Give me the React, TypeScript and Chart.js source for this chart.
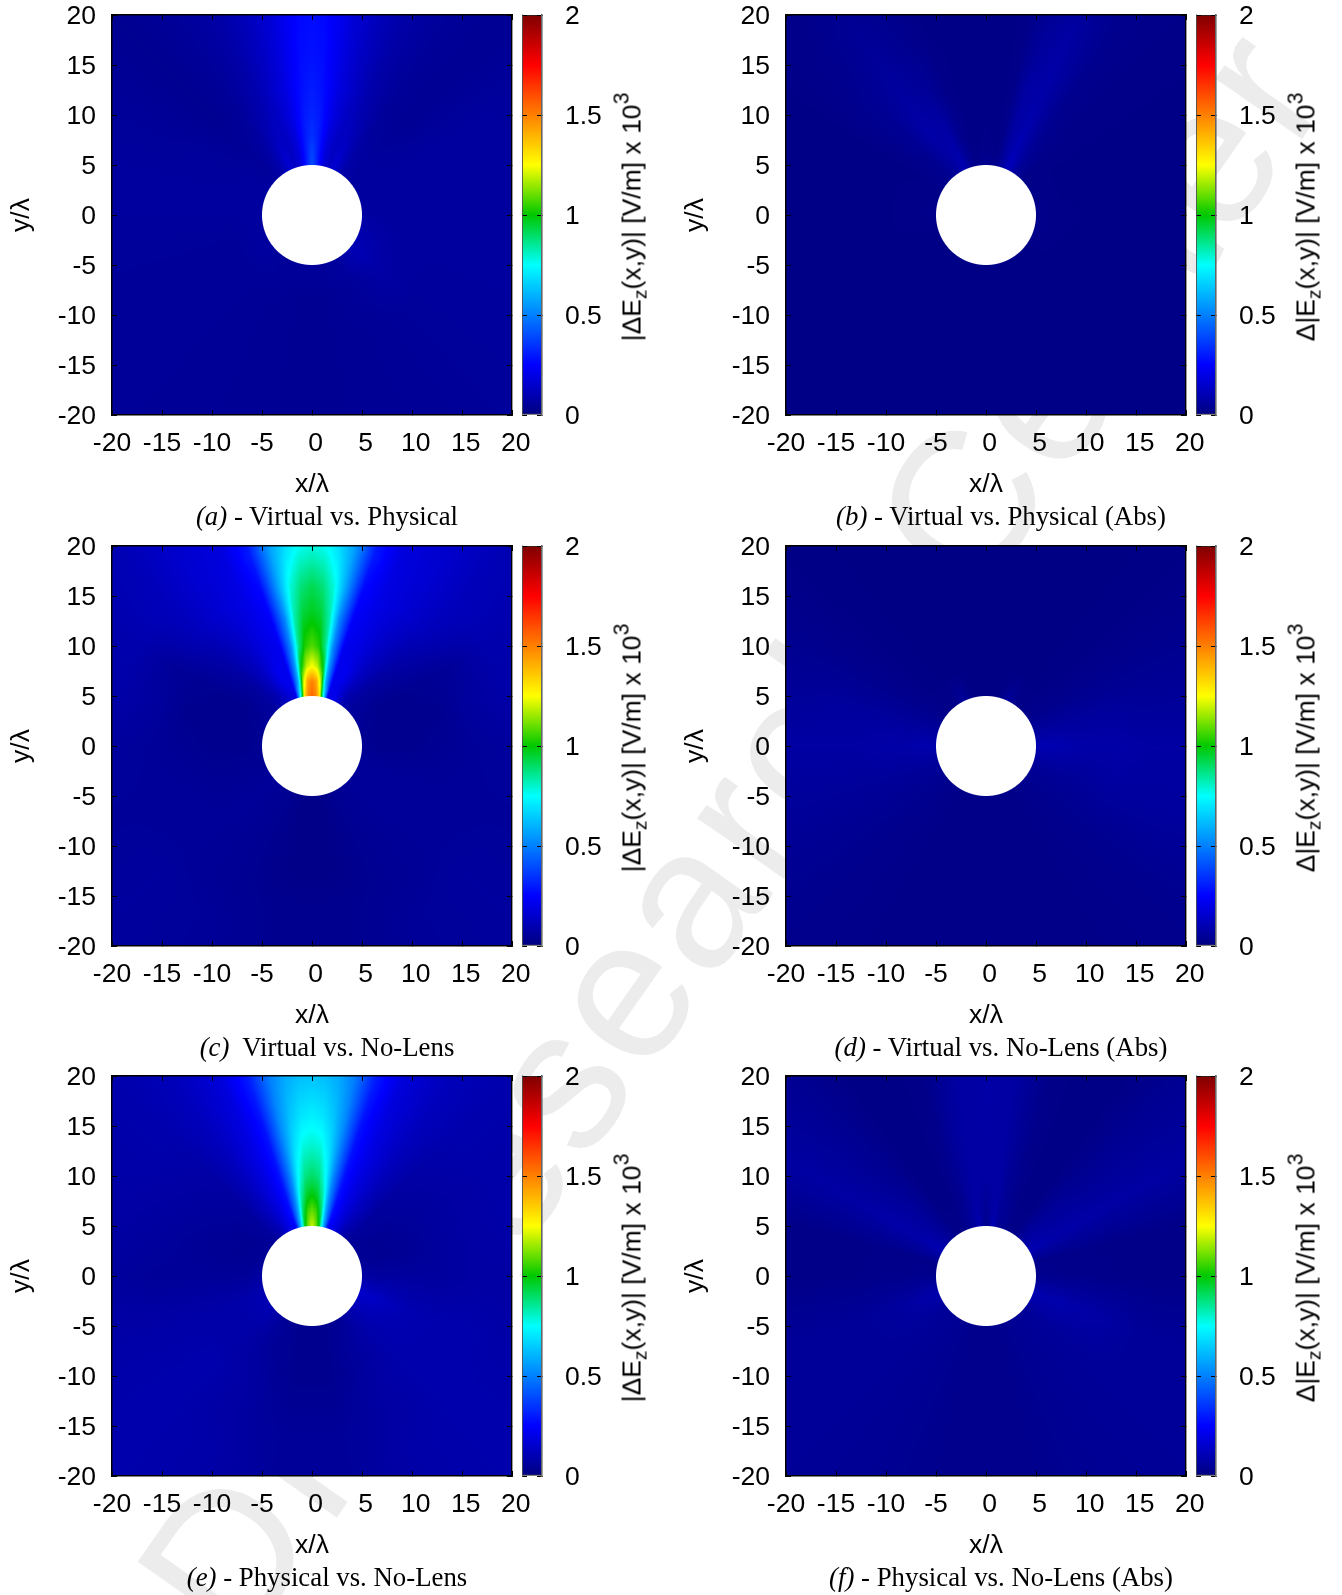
import React, { useEffect, useRef } from "react";
import { Chart, registerables } from "chart.js";

Chart.register(...registerables);

const X_TICK_VALUES = [-20, -15, -10, -5, 0, 5, 10, 15, 20];
const BAR_TICK_VALUES = [0, 0.5, 1, 1.5, 2];
const HOLE_RADIUS = 5;

// Mesh of read-off field values: one row per radius, one column per spoke.
// Spokes in degrees clockwise from +y.
const ANGLES = [-170, -150, -130, -110, -90, -75, -60, -45, -35, -25, -18, -12, -8, -4, 0, 4, 8, 12, 18, 25, 35, 45, 60, 75, 90, 110, 130, 150, 170];
const RADII = [5, 6.5, 8, 10, 13, 16, 20, 28.3];

const VALUES_A = [
  [.05, .05, .06, .06, .06, .06, .06, .06, .08, .16, .14, .18, .26, .34, .40, .34, .26, .18, .14, .16, .08, .07, .06, .06, .07, .09, .11, .06, .05],
  [.05, .05, .06, .06, .06, .06, .06, .05, .08, .15, .13, .18, .25, .32, .38, .32, .25, .18, .13, .15, .08, .06, .06, .06, .06, .08, .10, .06, .05],
  [.04, .05, .05, .05, .06, .06, .06, .05, .07, .13, .13, .18, .25, .31, .34, .31, .25, .18, .13, .13, .07, .06, .06, .06, .06, .07, .08, .05, .04],
  [.04, .045, .05, .05, .06, .06, .055, .045, .06, .11, .14, .19, .25, .30, .32, .30, .25, .19, .14, .11, .06, .05, .06, .06, .06, .06, .07, .05, .04],
  [.04, .045, .05, .05, .06, .06, .055, .035, .05, .09, .14, .19, .24, .28, .30, .28, .24, .19, .14, .09, .05, .04, .06, .06, .06, .06, .055, .045, .04],
  [.04, .045, .05, .05, .06, .06, .05, .035, .05, .08, .13, .18, .23, .27, .28, .27, .23, .18, .13, .08, .05, .04, .06, .06, .06, .06, .055, .045, .04],
  [.04, .045, .05, .05, .06, .06, .05, .035, .05, .08, .12, .17, .22, .26, .27, .26, .22, .17, .12, .08, .05, .04, .06, .06, .06, .06, .055, .045, .04],
  [.04, .045, .05, .05, .06, .06, .05, .035, .05, .07, .11, .16, .20, .24, .25, .24, .20, .16, .11, .07, .05, .04, .055, .06, .06, .06, .055, .045, .04],
];

const VALUES_B = [
  [.015, .015, .015, .015, .03, .02, .02, .03, .05, .10, .05, .02, .02, .03, .04, .03, .02, .03, .06, .12, .05, .02, .02, .02, .03, .02, .015, .015, .015],
  [.015, .015, .015, .015, .02, .02, .02, .03, .06, .09, .04, .02, .015, .02, .02, .02, .015, .02, .07, .11, .05, .02, .02, .02, .02, .02, .015, .015, .015],
  [.015, .015, .015, .015, .02, .02, .015, .03, .07, .08, .03, .015, .015, .015, .02, .015, .015, .02, .07, .10, .04, .02, .015, .015, .02, .015, .015, .015, .015],
  [.015, .015, .015, .015, .015, .015, .015, .04, .08, .07, .03, .015, .015, .015, .015, .015, .015, .02, .07, .09, .035, .02, .015, .015, .015, .015, .015, .015, .015],
  [.015, .015, .015, .015, .015, .015, .015, .04, .07, .05, .02, .015, .015, .015, .015, .015, .015, .02, .07, .08, .03, .02, .015, .015, .015, .015, .015, .015, .015],
  [.015, .015, .015, .015, .015, .015, .015, .04, .06, .04, .02, .015, .015, .015, .015, .015, .015, .02, .06, .08, .03, .02, .015, .015, .015, .015, .015, .015, .015],
  [.015, .015, .015, .015, .015, .015, .015, .03, .05, .03, .015, .015, .015, .015, .015, .015, .015, .02, .05, .07, .03, .02, .015, .015, .015, .015, .015, .015, .015],
  [.015, .015, .015, .015, .015, .015, .015, .02, .03, .02, .015, .015, .015, .015, .015, .015, .015, .02, .03, .04, .025, .02, .015, .015, .015, .015, .015, .015, .015],
];

const VALUES_C = [
  [.02, .04, .05, .04, .04, .04, .05, .06, .10, .15, .20, .85, 1.35, 1.50, 1.55, 1.50, 1.35, .85, .20, .22, .10, .06, .05, .04, .04, .05, .05, .04, .02],
  [.02, .04, .05, .04, .03, .03, .04, .06, .10, .20, .22, .60, 1.15, 1.42, 1.50, 1.42, 1.15, .60, .22, .20, .10, .06, .04, .03, .03, .05, .05, .04, .02],
  [.02, .04, .05, .04, .03, .03, .03, .06, .12, .22, .22, .56, .98, 1.18, 1.25, 1.18, .98, .56, .22, .22, .12, .06, .03, .03, .03, .05, .05, .04, .02],
  [.02, .04, .05, .04, .03, .03, .03, .07, .13, .20, .22, .52, .85, 1.03, 1.08, 1.03, .85, .52, .22, .20, .13, .07, .03, .03, .03, .05, .05, .04, .02],
  [.02, .04, .05, .05, .04, .03, .04, .09, .14, .20, .24, .52, .82, .95, .98, .95, .82, .52, .24, .20, .14, .09, .04, .03, .04, .05, .05, .04, .02],
  [.03, .04, .05, .05, .05, .06, .05, .12, .16, .20, .26, .57, .78, .88, .92, .88, .78, .57, .26, .20, .16, .12, .05, .06, .05, .05, .05, .04, .03],
  [.03, .05, .06, .05, .06, .08, .09, .12, .16, .19, .30, .57, .68, .76, .78, .76, .68, .57, .30, .19, .16, .12, .09, .08, .06, .05, .06, .05, .03],
  [.03, .05, .06, .05, .06, .08, .09, .10, .14, .16, .26, .48, .60, .68, .70, .68, .60, .48, .26, .16, .14, .10, .09, .08, .06, .05, .06, .05, .03],
];

const VALUES_D = [
  [.02, .02, .03, .05, .09, .06, .03, .02, .02, .06, .02, .012, .012, .012, .012, .012, .012, .012, .02, .06, .02, .02, .03, .06, .10, .05, .03, .02, .02],
  [.02, .02, .03, .05, .09, .06, .03, .02, .02, .03, .015, .012, .012, .012, .012, .012, .012, .012, .015, .03, .02, .02, .03, .06, .10, .05, .03, .02, .02],
  [.02, .02, .03, .05, .08, .06, .03, .015, .012, .012, .012, .012, .012, .012, .012, .012, .012, .012, .012, .012, .012, .015, .03, .06, .09, .05, .03, .02, .02],
  [.02, .02, .03, .05, .08, .06, .03, .015, .012, .012, .012, .012, .012, .012, .012, .012, .012, .012, .012, .012, .012, .015, .03, .06, .08, .05, .03, .02, .02],
  [.02, .02, .03, .05, .07, .06, .03, .015, .012, .012, .012, .012, .012, .012, .012, .012, .012, .012, .012, .012, .012, .015, .03, .06, .08, .06, .03, .02, .02],
  [.02, .02, .03, .05, .07, .06, .03, .015, .012, .012, .012, .012, .012, .012, .012, .012, .012, .012, .012, .012, .012, .015, .03, .05, .07, .06, .03, .02, .02],
  [.02, .02, .03, .05, .07, .05, .03, .015, .012, .012, .012, .012, .012, .012, .012, .012, .012, .012, .012, .012, .012, .015, .03, .05, .07, .06, .03, .02, .02],
  [.02, .02, .03, .05, .06, .05, .03, .015, .012, .012, .012, .012, .012, .012, .012, .012, .012, .012, .012, .012, .012, .015, .03, .05, .06, .05, .03, .02, .02],
];

const VALUES_E = [
  [.03, .04, .10, .10, .07, .05, .04, .05, .10, .20, .25, .65, .98, 1.12, 1.20, 1.12, .98, .65, .25, .20, .10, .05, .04, .05, .07, .15, .10, .04, .03],
  [.03, .05, .09, .09, .05, .04, .04, .06, .11, .20, .28, .58, .90, 1.05, 1.10, 1.05, .90, .58, .28, .20, .11, .06, .04, .04, .06, .14, .09, .05, .03],
  [.03, .05, .08, .08, .05, .04, .04, .06, .12, .20, .28, .54, .82, .96, 1.00, .96, .82, .54, .28, .20, .12, .06, .04, .04, .06, .12, .09, .06, .03],
  [.03, .06, .08, .08, .05, .04, .05, .06, .12, .20, .28, .52, .74, .87, .90, .87, .74, .52, .28, .20, .12, .06, .05, .04, .06, .10, .09, .06, .03],
  [.04, .07, .09, .08, .05, .05, .06, .07, .12, .20, .28, .52, .68, .78, .80, .78, .68, .52, .28, .20, .12, .07, .06, .06, .06, .09, .09, .07, .04],
  [.05, .07, .09, .08, .05, .06, .07, .08, .12, .19, .28, .52, .63, .70, .72, .70, .63, .52, .28, .19, .12, .08, .07, .07, .07, .09, .09, .07, .05],
  [.05, .08, .09, .08, .06, .07, .08, .09, .12, .18, .30, .50, .58, .62, .63, .62, .58, .50, .30, .18, .12, .09, .08, .08, .07, .08, .09, .08, .05],
  [.05, .08, .09, .08, .07, .07, .08, .09, .11, .16, .26, .43, .51, .56, .58, .56, .51, .43, .26, .16, .11, .09, .08, .08, .07, .08, .09, .08, .05],
];

const VALUES_F = [
  [.025, .04, .05, .09, .03, .02, .10, .05, .02, .02, .04, .06, .10, .06, .02, .07, .11, .05, .04, .02, .02, .06, .10, .02, .03, .10, .05, .04, .025],
  [.025, .04, .05, .08, .03, .02, .09, .05, .02, .02, .04, .06, .08, .06, .04, .06, .08, .05, .04, .02, .02, .06, .09, .02, .03, .09, .05, .04, .025],
  [.025, .04, .05, .07, .025, .02, .08, .05, .015, .015, .03, .06, .07, .07, .05, .07, .07, .05, .03, .015, .015, .05, .08, .02, .025, .09, .05, .04, .025],
  [.025, .04, .05, .06, .025, .02, .08, .05, .015, .015, .03, .06, .07, .07, .07, .07, .07, .05, .03, .015, .015, .05, .08, .02, .025, .08, .05, .04, .025],
  [.025, .04, .05, .05, .02, .02, .075, .04, .015, .015, .03, .06, .07, .07, .07, .07, .07, .05, .025, .015, .015, .04, .075, .02, .02, .07, .05, .04, .025],
  [.025, .04, .05, .05, .02, .02, .07, .04, .015, .015, .025, .06, .07, .07, .075, .07, .07, .05, .025, .015, .015, .04, .07, .02, .02, .05, .05, .04, .025],
  [.025, .04, .05, .05, .02, .02, .07, .04, .015, .015, .02, .05, .07, .07, .08, .07, .07, .05, .02, .015, .015, .04, .07, .02, .02, .05, .05, .04, .025],
  [.025, .04, .05, .05, .02, .02, .06, .04, .015, .015, .02, .04, .06, .07, .07, .07, .06, .04, .02, .015, .015, .04, .06, .02, .02, .05, .05, .04, .025],
];

// Colour palette of the colour bar.
const PALETTE_VALUES = [0, 0.25, 0.5, 0.75, 1, 1.25, 1.5, 1.75, 2];
const PALETTE_COLORS = [
  [0, 0, 127], [0, 0, 255], [0, 128, 255], [0, 255, 255], [0, 200, 0],
  [255, 255, 0], [255, 128, 0], [255, 0, 0], [127, 0, 0],
];

const SANS = '"Liberation Sans", Arial, sans-serif';
const SERIF = '"Liberation Serif", "Times New Roman", serif';
const FONT_SIZE = 26.5;

function paletteRgb(v: number): number[] {
  const c = Math.max(0, Math.min(2, v));
  let i = 0;
  while (i < PALETTE_VALUES.length - 2 && c > PALETTE_VALUES[i + 1]) i++;
  const t = (c - PALETTE_VALUES[i]) / (PALETTE_VALUES[i + 1] - PALETTE_VALUES[i]);
  const a = PALETTE_COLORS[i];
  const b = PALETTE_COLORS[i + 1];
  return [a[0] + (b[0] - a[0]) * t, a[1] + (b[1] - a[1]) * t, a[2] + (b[2] - a[2]) * t];
}

function fieldAt(values: number[][], x: number, y: number): number {
  const r = Math.min(Math.hypot(x, y), RADII[RADII.length - 1]);
  const th = (Math.atan2(x, y) * 180) / Math.PI;
  const n = ANGLES.length;
  let a0 = n - 1;
  let a1 = 0;
  let ta = 0;
  if (th < ANGLES[0]) {
    ta = (th + 360 - ANGLES[n - 1]) / (ANGLES[0] + 360 - ANGLES[n - 1]);
  } else if (th >= ANGLES[n - 1]) {
    ta = (th - ANGLES[n - 1]) / (ANGLES[0] + 360 - ANGLES[n - 1]);
  } else {
    let i = 0;
    while (th >= ANGLES[i + 1]) i++;
    a0 = i;
    a1 = i + 1;
    ta = (th - ANGLES[i]) / (ANGLES[i + 1] - ANGLES[i]);
  }
  let j = 0;
  while (j < RADII.length - 2 && r > RADII[j + 1]) j++;
  const tr = Math.max(0, (r - RADII[j]) / (RADII[j + 1] - RADII[j]));
  const v0 = values[j][a0] + (values[j][a1] - values[j][a0]) * ta;
  const v1 = values[j + 1][a0] + (values[j + 1][a1] - values[j + 1][a0]) * ta;
  return v0 + (v1 - v0) * tr;
}

const meshPlugin = {
  id: "polarMesh",
  beforeDraw(chart: any) {
    const { left, top, width, height } = chart.chartArea;
    const values = chart.config.options.meshValues;
    const sx = chart.scales.x;
    const sy = chart.scales.y;
    const w = Math.round(width);
    const h = Math.round(height);
    const off = document.createElement("canvas");
    off.width = w;
    off.height = h;
    const octx = off.getContext("2d")!;
    const img = octx.createImageData(w, h);
    const pxPerUnit = Math.abs(sx.getPixelForValue(1) - sx.getPixelForValue(0));
    let k = 0;
    for (let py = 0; py < h; py++) {
      const dy = sy.getValueForPixel(top + py + 0.5);
      for (let px = 0; px < w; px++) {
        const dx = sx.getValueForPixel(left + px + 0.5);
        const rr = Math.hypot(dx, dy);
        const cover = Math.max(0, Math.min(1, (rr - HOLE_RADIUS) * pxPerUnit + 0.5));
        const rgb = cover > 0 ? paletteRgb(fieldAt(values, dx, dy)) : [255, 255, 255];
        img.data[k++] = rgb[0] * cover + 255 * (1 - cover);
        img.data[k++] = rgb[1] * cover + 255 * (1 - cover);
        img.data[k++] = rgb[2] * cover + 255 * (1 - cover);
        img.data[k++] = 255;
      }
    }
    octx.putImageData(img, 0, 0);
    chart.ctx.drawImage(off, left, top);
  },
};

function fixBox(width: number | null, height: number | null) {
  return (scale: any) => {
    if (width !== null) scale.width = width;
    if (height !== null) scale.height = height;
    scale.paddingLeft = scale.paddingRight = scale.paddingTop = scale.paddingBottom = 0;
  };
}

const AXIS_W = 112;
const AXIS_H = 86;
const PAD_TOP = 15;
const PAD_RIGHT = 40;
const PLOT = 400;
const tickFont = { family: SANS, size: FONT_SIZE };

function valueAxis(position: string, extra: any) {
  return {
    type: "linear",
    position,
    min: -20,
    max: 20,
    grid: { drawOnChartArea: false, tickLength: -5, color: "#000", lineWidth: 1 },
    border: { display: true, color: "#000", width: 1.4 },
    ticks: {
      stepSize: 5,
      autoSkip: false,
      maxRotation: 0,
      minRotation: 0,
      color: "#000",
      font: tickFont,
      ...extra.ticks,
    },
    title: extra.title,
    afterFit: extra.afterFit,
  };
}

const barGradient = (ctx: any) => {
  const { chart } = ctx;
  const s = chart.scales.y;
  if (!s || !chart.chartArea) return "#00007f";
  const g = chart.ctx.createLinearGradient(0, s.getPixelForValue(0), 0, s.getPixelForValue(2));
  PALETTE_VALUES.forEach((v, i) => {
    const c = PALETTE_COLORS[i];
    g.addColorStop(v / 2, `rgb(${c[0]},${c[1]},${c[2]})`);
  });
  return g;
};

type PanelProps = { left: number; top: number; values: number[][]; label: React.ReactNode; caption: React.ReactNode };

function Panel({ left, top, values, label, caption }: PanelProps) {
  const plotRef = useRef<HTMLCanvasElement>(null);
  const barRef = useRef<HTMLCanvasElement>(null);

  useEffect(() => {
    const nodes: any[] = [];
    RADII.forEach((r, j) =>
      ANGLES.forEach((a, i) => {
        const t = (a * Math.PI) / 180;
        nodes.push({ x: r * Math.sin(t), y: r * Math.cos(t), v: values[j][i] });
      })
    );
    const plot = new Chart(plotRef.current!, {
      type: "scatter",
      plugins: [meshPlugin],
      data: { datasets: [{ label: "field", data: nodes, pointRadius: 0, showLine: false }] },
      options: {
        meshValues: values,
        responsive: false,
        animation: false,
        events: [],
        layout: { padding: { top: PAD_TOP, right: PAD_RIGHT, left: 0, bottom: 0 } },
        plugins: { legend: { display: false }, tooltip: { enabled: false } },
        scales: {
          x: valueAxis("bottom", {
            ticks: {
              padding: 18,
              callback: (v: number) => (X_TICK_VALUES.includes(v) ? (v < 0 ? `${v}` : ` ${v}`) : ""),
            },
            title: { display: true, text: "x/λ", color: "#000", font: tickFont, padding: { top: 0, bottom: 0 } },
            afterFit: fixBox(null, AXIS_H),
          }),
          y: valueAxis("left", {
            ticks: { padding: 21, labelOffset: 2, callback: (v: number) => `${v}` },
            title: { display: true, text: "y/λ", color: "#000", font: tickFont, padding: { top: 6, bottom: 0 } },
            afterFit: fixBox(AXIS_W, null),
          }),
          xTop: valueAxis("top", { ticks: { display: false }, title: { display: false }, afterFit: fixBox(null, 0) }),
          yRight: valueAxis("right", { ticks: { display: false }, title: { display: false }, afterFit: fixBox(0, null) }),
        },
      } as any,
    });

    const colorAxis = (position: string, showLabels: boolean, w: number) => ({
      type: "linear",
      position,
      min: 0,
      max: 2,
      grid: { drawOnChartArea: false, tickLength: -5, color: "#000", lineWidth: 1, z: 1 },
      border: { display: true, color: "#666", width: 1.6, z: 1 },
      ticks: {
        display: showLabels,
        stepSize: 0.5,
        padding: 28,
        labelOffset: 2,
        color: "#000",
        font: tickFont,
        crossAlign: "near",
        callback: (v: number) => (BAR_TICK_VALUES.includes(v) ? `${v}` : ""),
      },
      afterFit: fixBox(w, null),
    });
    const bar = new Chart(barRef.current!, {
      type: "bar",
      data: {
        labels: ["palette"],
        datasets: [
          {
            label: "palette",
            data: [BAR_TICK_VALUES[BAR_TICK_VALUES.length - 1]],
            backgroundColor: barGradient,
            borderColor: "#222",
            borderWidth: 1,
            borderSkipped: false,
            barPercentage: 1,
            categoryPercentage: 1,
            yAxisID: "y",
          },
        ],
      },
      options: {
        responsive: false,
        animation: false,
        events: [],
        layout: { padding: { top: PAD_TOP, bottom: 30, left: 0, right: 0 } },
        plugins: { legend: { display: false }, tooltip: { enabled: false } },
        scales: {
          x: { display: false },
          y: colorAxis("right", true, 70),
          yLeft: colorAxis("left", false, 0),
        },
      } as any,
    });
    return () => {
      plot.destroy();
      bar.destroy();
    };
  }, [values]);

  const plotLeft = left + AXIS_W;
  const plotTop = top + PAD_TOP;
  return (
    <>
      <canvas
        ref={plotRef}
        width={AXIS_W + PLOT + PAD_RIGHT}
        height={PAD_TOP + PLOT + AXIS_H}
        style={{ position: "absolute", left, top }}
      />
      <canvas
        ref={barRef}
        width={90}
        height={PAD_TOP + PLOT + 30}
        style={{ position: "absolute", left: plotLeft + 410, top }}
      />
      <div
        style={{
          position: "absolute",
          left: plotLeft + 520,
          top: plotTop + 201.5,
          transform: "translate(-50%,-50%) rotate(-90deg)",
          font: `${FONT_SIZE}px ${SANS}`,
          whiteSpace: "pre",
          color: "#000",
        }}
      >
        {label}
      </div>
      <div
        style={{
          position: "absolute",
          left: plotLeft + 215,
          top: plotTop + 501,
          transform: "translate(-50%,-50%)",
          font: `26.8px ${SERIF}`,
          whiteSpace: "pre",
          color: "#000",
        }}
      >
        {caption}
      </div>
    </>
  );
}

const subStyle: React.CSSProperties = { fontSize: "72%", lineHeight: 0, verticalAlign: "-0.3em" };
const supStyle: React.CSSProperties = { fontSize: "80%", lineHeight: 0, verticalAlign: "0.55em" };
const unit = (
  <>
    (x,y)| [V/m] x 10<span style={supStyle}>3</span>
  </>
);
const LABEL_DIFF_ABS = (
  <>
    |ΔE<span style={subStyle}>z</span>
    {unit}
  </>
);
const LABEL_ABS_DIFF = (
  <>
    Δ|E<span style={subStyle}>z</span>
    {unit}
  </>
);

export default function App() {
  return (
    <div style={{ position: "absolute", left: 0, top: 0, width: 1342, height: 1595, overflow: "hidden", background: "#fff" }}>
      <div
        style={{
          position: "absolute",
          left: 241,
          top: 1654,
          width: 0,
          height: 0,
          transformOrigin: "0 0",
          transform: "rotate(-55deg)",
        }}
      >
        <div
          style={{
            position: "absolute",
            left: 0,
            bottom: -31,
            font: `200px/1 ${SANS}`,
            letterSpacing: "0.02em",
            color: "#ececec",
            whiteSpace: "pre",
          }}
        >
          <span style={{ wordSpacing: "-0.65em" }}>DISI </span>Research Center
        </div>
      </div>
      <Panel left={0} top={0} values={VALUES_A} label={LABEL_DIFF_ABS} caption={<><i>(a)</i> - Virtual vs. Physical</>} />
      <Panel left={674} top={0} values={VALUES_B} label={LABEL_ABS_DIFF} caption={<><i>(b)</i> - Virtual vs. Physical (Abs)</>} />
      <Panel left={0} top={531} values={VALUES_C} label={LABEL_DIFF_ABS} caption={<><i>(c)</i>  Virtual vs. No-Lens</>} />
      <Panel left={674} top={531} values={VALUES_D} label={LABEL_ABS_DIFF} caption={<><i>(d)</i> - Virtual vs. No-Lens (Abs)</>} />
      <Panel left={0} top={1061} values={VALUES_E} label={LABEL_DIFF_ABS} caption={<><i>(e)</i> - Physical vs. No-Lens</>} />
      <Panel left={674} top={1061} values={VALUES_F} label={LABEL_ABS_DIFF} caption={<><i>(f)</i> - Physical vs. No-Lens (Abs)</>} />
    </div>
  );
}
